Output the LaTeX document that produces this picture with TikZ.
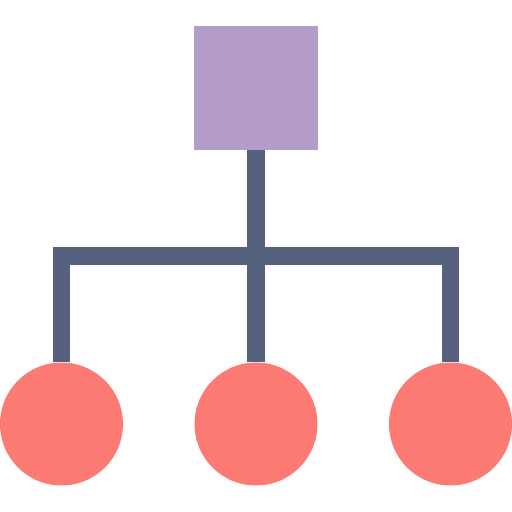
\documentclass[tikz,border=0pt]{standalone}
\usepackage{tikz}
\usetikzlibrary{positioning}
\definecolor{lilac}{HTML}{B49CCB}
\definecolor{slateblue}{HTML}{56617F}
\definecolor{salmon}{HTML}{FB7A73}

\begin{document}
\begin{tikzpicture}[x=0.02cm, y=-0.02cm,
    rootbox/.style={rectangle, fill=lilac, inner sep=0pt, minimum size=2.48cm},
    leafdot/.style={circle, fill=salmon, inner sep=0pt, minimum size=2.46cm},
    link/.style={slateblue, line width=0.35cm, line join=miter}]
    \useasboundingbox (0,0) rectangle (512,512);

    % Root
    \node[rootbox] (root) at (256,88) {};

    % Leaves
    \foreach \x/\name in {61.5/leftleaf, 256/midleaf, 450.5/rightleaf} {
        \node[leafdot] (\name) at (\x,424) {};
    }

    % Hierarchy links
    \coordinate (lcorner) at (61.5,256);
    \coordinate (rcorner) at (450.5,256);
    \draw[link] (root.south) -- (midleaf.north);
    \draw[link] (leftleaf.north) -- (lcorner) -- (rcorner) -- (rightleaf.north);
\end{tikzpicture}
\end{document}
